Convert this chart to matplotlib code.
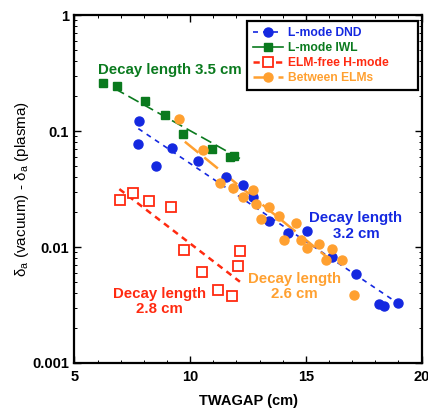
import matplotlib
matplotlib.use("Agg")
import matplotlib.pyplot as plt
from matplotlib.ticker import MultipleLocator, FixedLocator, FixedFormatter, LogLocator, NullFormatter

plt.rcParams['font.family'] = ['Liberation Sans', 'DejaVu Sans']
plt.rcParams['mathtext.fontset'] = 'custom'
plt.rcParams['mathtext.rm'] = 'Liberation Sans'

# L-mode DND (blue circles)
dnd_x = [7.80, 7.76, 8.51, 9.20, 10.35, 11.54, 12.29, 12.70, 13.42, 14.21, 15.03, 16.15, 17.16, 18.17, 18.37, 18.99]
dnd_y = [0.123, 0.077, 0.050, 0.0718, 0.0555, 0.040, 0.034, 0.027, 0.0168, 0.0131, 0.0137, 0.00826, 0.0058, 0.00323, 0.00312, 0.00331]
dnd_fit_x = [7.76, 18.77]
dnd_fit_y = [0.105, 0.00349]

# L-mode IWL (green squares)
iwl_x = [6.24, 6.82, 8.05, 8.91, 9.70, 10.93, 11.72, 11.90]
iwl_y = [0.261, 0.244, 0.182, 0.137, 0.094, 0.0695, 0.060, 0.061]
iwl_fit_x = [6.7, 12.15]
iwl_fit_y = [0.235, 0.058]

# ELM-free H-mode (red open squares)
elmfree_x = [6.97, 7.54, 8.23, 9.17, 9.74, 10.49, 11.19, 11.79, 12.05, 12.15]
elmfree_y = [0.0254, 0.029, 0.025, 0.0223, 0.0095, 0.0061, 0.0043, 0.0038, 0.0068, 0.0092]
elmfree_fit_x = [6.94, 12.15]
elmfree_fit_y = [0.0316, 0.00502]

# Between ELMs (orange circles)
between_x = [9.53, 10.54, 11.29, 11.86, 12.70, 12.29, 12.84, 13.42, 13.06, 13.83, 14.57, 14.06, 14.81, 15.07, 15.58, 16.15, 15.85, 16.58, 17.09]
between_y = [0.126, 0.0686, 0.036, 0.032, 0.031, 0.0268, 0.0235, 0.0223, 0.0174, 0.0186, 0.016, 0.0116, 0.0116, 0.00975, 0.0106, 0.0096, 0.0077, 0.0077, 0.00386]
between_fit_x = [9.77, 15.89]
between_fit_y = [0.081, 0.00826]

blue = '#1428e0'
green = '#0a7a1e'
red = '#ff2a10'
orange = '#ffa030'

fig = plt.figure(figsize=(4.28, 4.09), dpi=100)
ax = fig.add_axes([0.174, 0.1125, 0.811, 0.8505])

ax.plot(dnd_fit_x, dnd_fit_y, color=blue, lw=1.2, dashes=(3, 3))
ax.plot(iwl_fit_x, iwl_fit_y, color=green, lw=1.2, dashes=(7, 3))
ax.plot(elmfree_fit_x, elmfree_fit_y, color=red, lw=1.8, dashes=(2.5, 2))
ax.plot(between_fit_x, between_fit_y, color=orange, lw=1.8, dashes=(7, 3))

ax.plot(dnd_x, dnd_y, 'o', color=blue, ms=6.5, mec=blue)
ax.plot(iwl_x, iwl_y, 's', color=green, ms=6.3, mec=green)
ax.plot(elmfree_x, elmfree_y, 's', mfc='white', mec=red, mew=1.3, ms=7)
ax.plot(between_x, between_y, 'o', color=orange, ms=6.5, mec=orange)

# legend handles
h1, = ax.plot([], [], color=blue, lw=1.2, dashes=(3, 3), marker='o', ms=6.5)
h2, = ax.plot([], [], color=green, lw=1.2, marker='s', ms=6.3)
h3, = ax.plot([], [], color=red, lw=1.8, dashes=(2.5, 2), marker='s', mfc='white', mec=red, mew=1.3, ms=7)
h4, = ax.plot([], [], color=orange, lw=1.8, dashes=(7, 3), marker='o', ms=6.5)
leg = ax.legend([h1, h2, h3, h4], ['L-mode DND', 'L-mode IWL', 'ELM-free H-mode', 'Between ELMs'],
                loc='upper left', bbox_to_anchor=(0.497, 0.784, 0.492, 0.199), mode='expand',
                fancybox=False, framealpha=1,
                edgecolor='black', handlelength=2.5, handletextpad=0.4, labelspacing=0.25,
                borderpad=0.5, borderaxespad=0, prop={'weight': 'bold', 'size': 8.7})
leg.get_frame().set_linewidth(1.6)
for txt, c in zip(leg.get_texts(), [blue, green, red, orange]):
    txt.set_color(c)

ax.set_yscale('log')
ax.set_xlim(5, 20)
ax.set_ylim(0.001, 1)

ax.xaxis.set_major_locator(MultipleLocator(5))
ax.xaxis.set_minor_locator(MultipleLocator(1))
ax.yaxis.set_major_locator(FixedLocator([0.001, 0.01, 0.1, 1]))
ax.yaxis.set_major_formatter(FixedFormatter(['0.001', '0.01', '0.1', '1']))
ax.yaxis.set_minor_locator(LogLocator(base=10, subs=range(2, 10)))
ax.yaxis.set_minor_formatter(NullFormatter())
ax.tick_params(which='both', direction='in', top=True, right=True)
ax.tick_params(which='major', length=5, width=1, labelsize=10.5)
ax.tick_params(axis='x', which='major', pad=5)
ax.tick_params(axis='y', which='major', pad=4)
ax.tick_params(which='minor', length=2.5, width=0.7)
for lbl in ax.get_xticklabels() + ax.get_yticklabels():
    lbl.set_fontweight('bold')
for sp in ax.spines.values():
    sp.set_linewidth(1.6)

ax.set_xlabel('TWAGAP (cm)', fontsize=10.5, fontweight='bold', labelpad=7)
ax.set_ylabel('δ$_\\mathrm{a}$ (vacuum) - δ$_\\mathrm{a}$ (plasma)', fontsize=11, labelpad=1)

ax.text(6.02, 0.336, 'Decay length 3.5 cm', color=green, fontsize=10.8, fontweight='bold', ha='left', va='center')
ax.text(17.16, 0.0152, 'Decay length\n3.2 cm', color=blue, fontsize=10.8, fontweight='bold', ha='center', va='center', linespacing=1.1)
ax.text(14.52, 0.00455, 'Decay length\n2.6 cm', color=orange, fontsize=10.8, fontweight='bold', ha='center', va='center', linespacing=1.1)
ax.text(8.69, 0.0034, 'Decay length\n2.8 cm', color=red, fontsize=10.8, fontweight='bold', ha='center', va='center', linespacing=1.1)

fig.savefig('out.png', dpi=100)
